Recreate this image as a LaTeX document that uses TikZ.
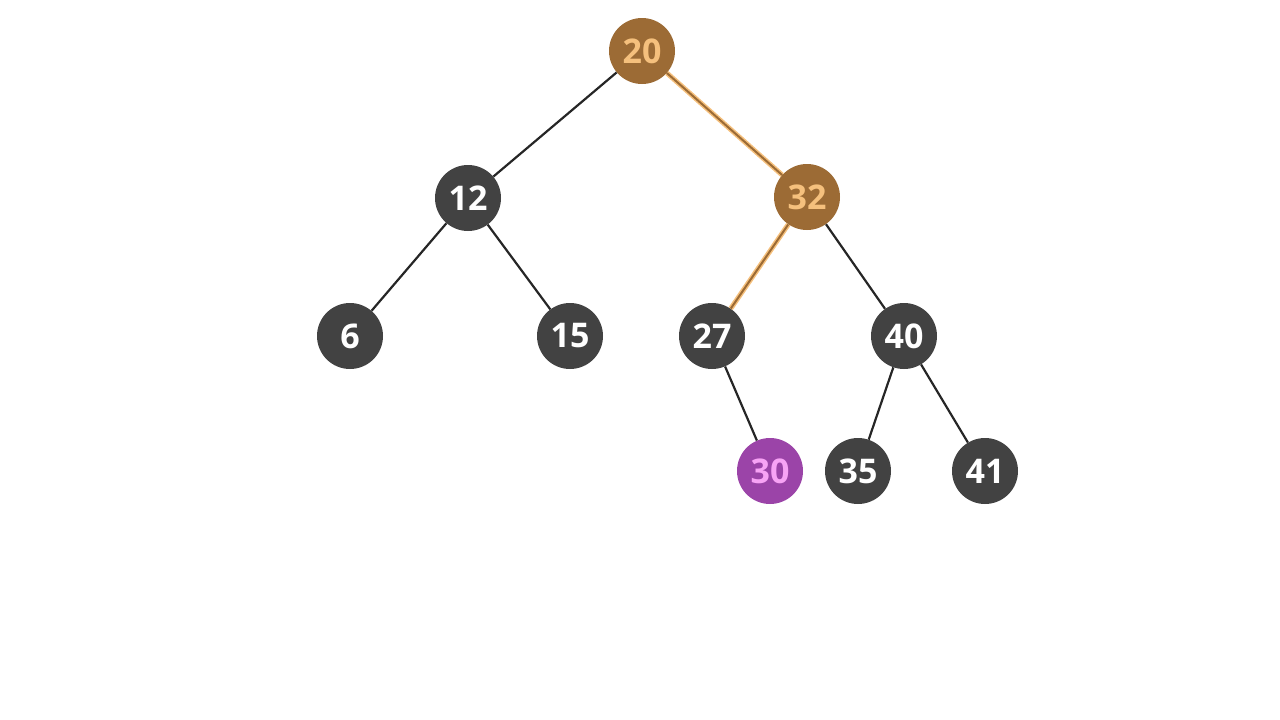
\documentclass[tikz,border=0pt]{standalone}
\usepackage{fontspec}
\setmainfont{Open Sans}
\definecolor{dk}{HTML}{424242}
\definecolor{br}{HTML}{9C6B35}
\definecolor{lo}{HTML}{F5C07D}
\definecolor{pu}{HTML}{9B44A8}
\definecolor{pl}{HTML}{F7A3F5}
\tikzset{
 nd/.style={circle,fill=dk,minimum size=66pt,inner sep=0pt,text=white,font=\fontsize{34}{34}\selectfont\bfseries},
 hl/.style={nd,fill=br,text=lo},
 nw/.style={nd,fill=pu,text=pl},
 ed/.style={draw=black!85,line width=2.2pt},
 hed/.style={draw=lo,line width=5pt},
 hin/.style={draw=br,line width=2pt}
}
\begin{document}
\begin{tikzpicture}[x=1pt,y=-1pt]
\useasboundingbox (0,0) rectangle (1280,720);
\node[hl] (n20) at (642,51) {20};
\node[nd] (n12) at (468,198) {12};
\node[hl] (n32) at (807,197) {32};
\node[nd] (n6) at (350,336) {6};
\node[nd] (n15) at (570,336) {15};
\node[nd] (n27) at (712,336) {27};
\node[nd] (n40) at (904,336) {40};
\node[nw] (n30) at (770,471) {30};
\node[nd] (n35) at (858,471) {35};
\node[nd] (n41) at (985,471) {41};
\begin{scope}[on background layer/.style={}]
\end{scope}
\path[ed] (n20) -- (n12);
\path[ed] (n12) -- (n6);
\path[ed] (n12) -- (n15);
\path[ed] (n32) -- (n40);
\path[ed] (n27) -- (n30);
\path[ed] (n40) -- (n35);
\path[ed] (n40) -- (n41);
\path[hed] (n20) -- (n32);
\path[hin] (n20) -- (n32);
\path[hed] (n32) -- (n27);
\path[hin] (n32) -- (n27);
\end{tikzpicture}
\end{document}
